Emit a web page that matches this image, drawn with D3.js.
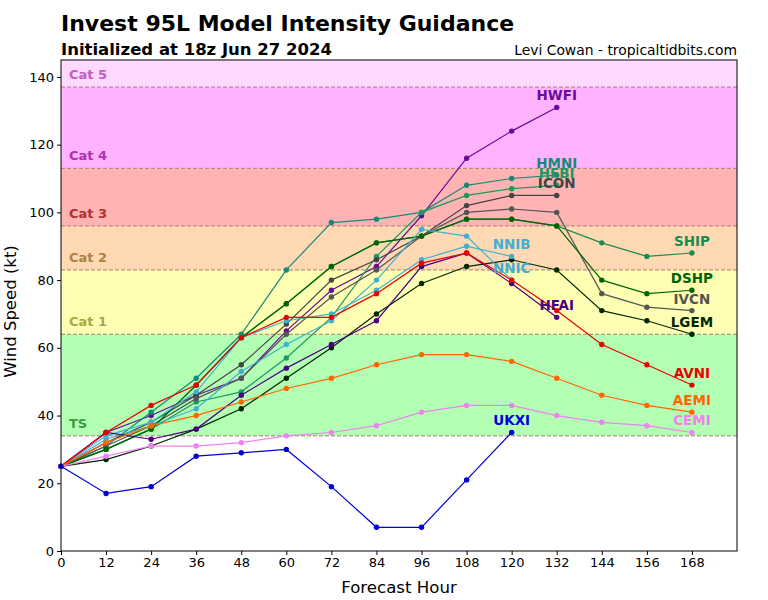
<!DOCTYPE html>
<html><head><meta charset="utf-8">
<script src="https://cdn.jsdelivr.net/npm/d3@7"></script>
<style>body{margin:0;background:#fff;} svg{display:block;font-family:"DejaVu Sans",sans-serif;}</style>
</head><body>
<svg id="c" width="768" height="600"></svg>
<script>
const hours = [0,12,24,36,48,60,72,84,96,108,120,132,144,156,168];
const xTicks = [0,12,24,36,48,60,72,84,96,108,120,132,144,156,168];
const yTicks = [0,20,40,60,80,100,120,140];
const models = ["HWFI","HMNI","HFBI","ICON","IVCN","SHIP","DSHP","LGEM","NNIB","NNIC","HFAI","AVNI","AEMI","CEMI","UKXI"];
const modelColors = ["#6a0a9a","#178a76","#1b9960","#444444","#555555","#1b8b50","#006400","#002800","#40b0d0","#40b0d0","#4b0082","#ee0000","#ff6600","#ee82ee","#0000dd"];
const HWFI = [25,35,40,46,51,65,77,84,99,116,124,131];
const HMNI = [25,31,41,51,64,83,97,98,100,108,110,111];
const HFBI = [25,30,36,44,47,57,69,87,100,105,107,108];
const ICON = [25,32,38,46,55,67,80,86,93,102,105,105];
const IVCN = [25,31,37,45,51,64,75,83,93,100,101,100,76,72,71];
const SHIP = [25,30,36,49,63,73,84,91,93,98,98,96,91,87,88];
const DSHP = [25,30,36,49,63,73,84,91,93,98,98,96,80,76,77];
const LGEM = [25,27,31,36,42,51,60,70,79,84,86,83,71,68,64];
const NNIB = [25,34,38,47,63,68,70,77,86,90,87];
const NNIC = [25,33,37,42,53,61,68,80,95,93,80];
const HFAI = [25,35,33,36,46,54,61,68,84,88,79,69];
const AVNI = [25,35,43,49,63,69,69,76,85,88,80,71,61,55,49];
const AEMI = [25,32,37,40,44,48,51,55,58,58,56,51,46,43,41];
const CEMI = [25,28,31,31,32,34,35,37,41,43,43,40,38,37,35];
const UKXI = [25,17,19,28,29,30,19,7,7,21,35];
const series = [HWFI,HMNI,HFBI,ICON,IVCN,SHIP,DSHP,LGEM,NNIB,NNIC,HFAI,AVNI,AEMI,CEMI,UKXI];
const catNames = ["TS","Cat 1","Cat 2","Cat 3","Cat 4","Cat 5"];
const catLow = [34,64,83,96,113,137];
const catHigh = [64,83,96,113,137,145];
const catFill = ["#b3ffb3","#ffffb3","#ffd9b3","#ffb3b3","#ffb3ff","#ffd9ff"];
const catText = ["#3c9a3c","#a8a840","#b08040","#b03030","#b030b0","#c060c0"];

const svg = d3.select("#c");
const L=61,R=737,T=60,B=551;
const x = d3.scaleLinear().domain([0,180]).range([L,R]);
const y = d3.scaleLinear().domain([0,145]).range([B,T]);

// bands
catNames.forEach((n,i)=>{
  svg.append("rect").attr("x",L).attr("width",R-L)
    .attr("y",y(catHigh[i])).attr("height",y(catLow[i])-y(catHigh[i]))
    .attr("fill",catFill[i]);
});
catLow.forEach(v=>{
  svg.append("line").attr("x1",L).attr("x2",R).attr("y1",y(v)).attr("y2",y(v))
    .attr("stroke","#a08070").attr("stroke-width",1).attr("stroke-dasharray","4,2");
});
catNames.forEach((n,i)=>{
  svg.append("text").attr("x",69).attr("y",y(catLow[i])-8)
    .attr("font-size",13).attr("font-weight","bold").attr("fill",catText[i]).text(n);
});

// lines
const line = d3.line().x((d,i)=>x(hours[i])).y(d=>y(d));
series.forEach((s,k)=>{
  svg.append("path").datum(s).attr("d",line).attr("fill","none")
    .attr("stroke",modelColors[k]).attr("stroke-width",1.2);
  svg.selectAll(null).data(s).enter().append("circle")
    .attr("cx",(d,i)=>x(hours[i])).attr("cy",d=>y(d)).attr("r",2.7)
    .attr("fill",modelColors[k]);
});
series.forEach((s,k)=>{
  const i = s.length-1;
  svg.append("text").attr("x",x(hours[i])).attr("y",y(s[i])-7)
    .attr("text-anchor","middle").attr("font-size",13.5).attr("font-weight","bold")
    .attr("fill",modelColors[k]).text(models[k]);
});

// axes
const xa = svg.append("g").attr("transform",`translate(0,${B})`)
  .call(d3.axisBottom(x).tickValues(xTicks).tickSize(4).tickPadding(3));
const ya = svg.append("g").attr("transform",`translate(${L},0)`)
  .call(d3.axisLeft(y).tickValues(yTicks).tickSize(4).tickPadding(3));
[xa,ya].forEach(g=>{
  g.select(".domain").remove();
  g.selectAll("text").attr("font-size",13).attr("font-family","DejaVu Sans").attr("fill","#000");
  g.selectAll("line").attr("stroke","#000");
});
svg.append("rect").attr("x",L).attr("y",T).attr("width",R-L).attr("height",B-T)
  .attr("fill","none").attr("stroke","#000").attr("stroke-width",1);

// titles
svg.append("text").attr("x",61).attr("y",31).attr("font-size",22).attr("font-weight","bold").text("Invest 95L Model Intensity Guidance");
svg.append("text").attr("x",61).attr("y",55).attr("font-size",16.5).attr("font-weight","bold").text("Initialized at 18z Jun 27 2024");
svg.append("text").attr("x",737).attr("y",55).attr("text-anchor","end").attr("font-size",13.9).text("Levi Cowan - tropicaltidbits.com");
svg.append("text").attr("x",(L+R)/2).attr("y",593).attr("text-anchor","middle").attr("font-size",16.6).text("Forecast Hour");
svg.append("text").attr("transform",`translate(16,${(T+B)/2+6}) rotate(-90)`).attr("text-anchor","middle").attr("font-size",16.5).text("Wind Speed (kt)");
</script>
</body></html>
